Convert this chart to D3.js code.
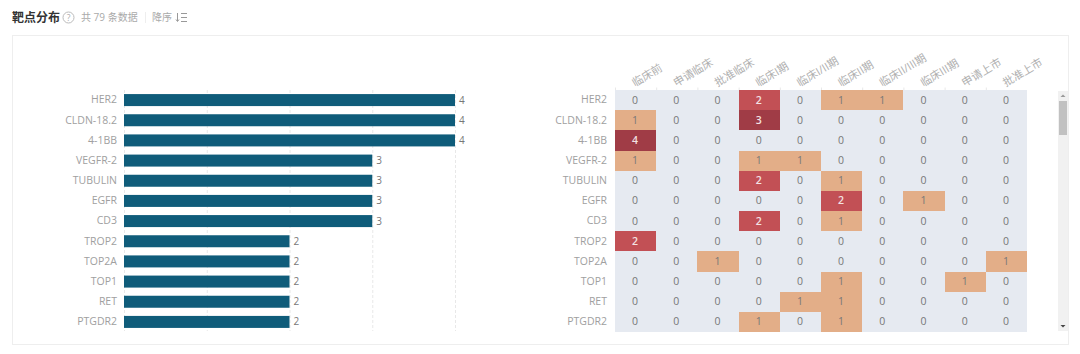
<!DOCTYPE html>
<html lang="zh">
<head>
  <meta charset="UTF-8">
  <title>靶点分布</title>
  <style>
    html, body { margin: 0; padding: 0; background: #fff; }
    svg { display: block; }
    text { font-family: "Open Sans", "Noto Sans CJK SC", sans-serif; }
  </style>
</head>
<body>
  <script src="https://cdnjs.cloudflare.com/ajax/libs/d3/7.8.5/d3.min.js"></script>
  <script>
    const targets = ['HER2', 'CLDN-18.2', '4-1BB', 'VEGFR-2', 'TUBULIN', 'EGFR', 'CD3', 'TROP2', 'TOP2A', 'TOP1', 'RET', 'PTGDR2'];
    const totals = [4, 4, 4, 3, 3, 3, 3, 2, 2, 2, 2, 2];
    const phases = ['临床前', '申请临床', '批准临床', '临床I期', '临床I/II期', '临床II期', '临床II/III期', '临床III期', '申请上市', '批准上市'];
    const matrix = [
      [0, 0, 0, 2, 0, 1, 1, 0, 0, 0],
      [1, 0, 0, 3, 0, 0, 0, 0, 0, 0],
      [4, 0, 0, 0, 0, 0, 0, 0, 0, 0],
      [1, 0, 0, 1, 1, 0, 0, 0, 0, 0],
      [0, 0, 0, 2, 0, 1, 0, 0, 0, 0],
      [0, 0, 0, 0, 0, 2, 0, 1, 0, 0],
      [0, 0, 0, 2, 0, 1, 0, 0, 0, 0],
      [2, 0, 0, 0, 0, 0, 0, 0, 0, 0],
      [0, 0, 1, 0, 0, 0, 0, 0, 0, 1],
      [0, 0, 0, 0, 0, 1, 0, 0, 1, 0],
      [0, 0, 0, 0, 1, 1, 0, 0, 0, 0],
      [0, 0, 0, 1, 0, 1, 0, 0, 0, 0]
    ];
    const cellColors = ['#e6eaf1', '#e3ae88', '#c25055', '#a03c46', '#a03c46'];

    const svg = d3.select('body').append('svg').attr('width', 1080).attr('height', 354);

    // header
    svg.append('text').attr('x', 12).attr('y', 22).attr('font-size', 12).attr('font-weight', 700).attr('fill', '#333').text('靶点分布');
    svg.append('circle').attr('cx', 68.5).attr('cy', 17.5).attr('r', 5.5).attr('fill', 'none').attr('stroke', '#bbb');
    svg.append('text').attr('x', 68.5).attr('y', 20.5).attr('text-anchor', 'middle').attr('font-size', 8.5).attr('fill', '#aaa').text('?');
    svg.append('text').attr('x', 81).attr('y', 21).attr('font-size', 10).attr('fill', '#aaa').text('共 79 条数据');
    svg.append('line').attr('x1', 145.5).attr('x2', 145.5).attr('y1', 12).attr('y2', 23).attr('stroke', '#eee');
    svg.append('text').attr('x', 152).attr('y', 21).attr('font-size', 10).attr('fill', '#aaa').text('降序');
    // sort icon
    svg.append('path').attr('d', 'M177.5 13V21M176 19.5L177.5 21.5L179 19.5M181 13.5H187M181 17.5H187M181 21.5H187')
      .attr('fill', 'none').attr('stroke', '#999');

    // card
    svg.append('rect').attr('x', 12.5).attr('y', 35.5).attr('width', 1056).attr('height', 309).attr('fill', '#fff').attr('stroke', '#eee');

    const y = d3.scaleBand().domain(targets).range([90, 332]);
    const x = d3.scaleLinear().domain([0, 4]).range([124, 455]);

    // bars
    const grid = svg.append('g');
    grid.selectAll('line').data(x.ticks(4)).join('line')
      .attr('x1', d => x(d) + 0.5).attr('x2', d => x(d) + 0.5)
      .attr('y1', 90).attr('y2', 331)
      .attr('stroke', '#e8e8e8').attr('stroke-dasharray', '3 2');

    const yAxis = svg.append('g').attr('transform', 'translate(124,0)')
      .call(d3.axisLeft(y).tickSize(0).tickPadding(7));
    yAxis.select('.domain').remove();
    yAxis.selectAll('text').attr('font-size', 10.5).attr('fill', '#a0a0a0');

    svg.append('g').selectAll('rect').data(targets).join('rect')
      .attr('x', x(0))
      .attr('y', d => y(d) + (y.bandwidth() - 12) / 2)
      .attr('width', (d, i) => x(totals[i]) - x(0))
      .attr('height', 12)
      .attr('fill', '#0f5c7a');

    svg.append('g').selectAll('text').data(targets).join('text')
      .attr('x', (d, i) => x(totals[i]) + 4)
      .attr('y', d => y(d) + y.bandwidth() / 2 + 3.5)
      .attr('font-size', 10).attr('fill', '#777')
      .text((d, i) => totals[i]);

    // heatmap
    const cx = d3.scaleBand().domain(phases).range([615, 1027]);

    const yAxis2 = svg.append('g').attr('transform', 'translate(615,0)')
      .call(d3.axisLeft(y).tickSize(0).tickPadding(8));
    yAxis2.select('.domain').remove();
    yAxis2.selectAll('text').attr('font-size', 10.5).attr('fill', '#a0a0a0');

    // small ticks above the columns
    svg.append('g').selectAll('line').data(phases).join('line')
      .attr('x1', d => cx(d) + 0.5).attr('x2', d => cx(d) + 0.5)
      .attr('y1', 87.5).attr('y2', 90)
      .attr('stroke', '#e8e8e8');

    const cells = matrix.flatMap((row, r) => row.map((v, c) => ({ target: targets[r], phase: phases[c], v })));

    svg.append('g').attr('shape-rendering', 'crispEdges').selectAll('rect').data(cells).join('rect')
      .attr('x', d => cx(d.phase))
      .attr('y', d => y(d.target))
      .attr('width', cx.bandwidth())
      .attr('height', y.bandwidth())
      .attr('fill', d => cellColors[d.v]);

    svg.append('g').selectAll('text').data(cells).join('text')
      .attr('x', d => cx(d.phase) + cx.bandwidth() / 2 - 0.5)
      .attr('y', d => y(d.target) + y.bandwidth() / 2 + 3.5)
      .attr('text-anchor', 'middle')
      .attr('font-size', 10.5)
      .attr('font-weight', d => d.v >= 2 ? 600 : 400)
      .attr('fill', d => d.v >= 2 ? '#f3e3e3' : '#777')
      .text(d => d.v);

    svg.append('g').selectAll('text').data(phases).join('text')
      .attr('transform', d => `translate(${cx(d) + 20},${87}) rotate(-31)`)
      .attr('font-size', 11).attr('fill', '#b0b0b0')
      .text(d => d);

    // scrollbar
    svg.append('rect').attr('x', 1058).attr('y', 91).attr('width', 10).attr('height', 240).attr('fill', '#f1f1f1');
    svg.append('rect').attr('x', 1059).attr('y', 101).attr('width', 8).attr('height', 34).attr('fill', '#c1c1c1');
    svg.append('path').attr('d', d3.line()([[1060.5, 97], [1065.5, 97], [1063, 94.5]])).attr('fill', '#999');
    svg.append('path').attr('d', d3.line()([[1060.5, 325], [1065.5, 325], [1063, 327.5]])).attr('fill', '#444');
  </script>
</body>
</html>
